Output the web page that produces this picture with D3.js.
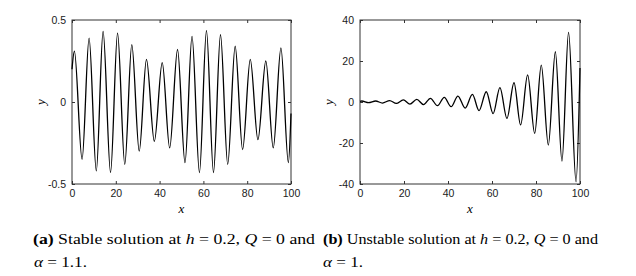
<!DOCTYPE html>
<html>
<head>
<meta charset="utf-8">
<script src="https://cdn.jsdelivr.net/npm/d3@7"></script>
<style>
    body { margin: 0; background: #fff; }
    .tick text { font-family: "Liberation Sans", Arial, sans-serif; font-size: 10.5px; fill: #1a1a1a; }
    .caption { font-family: "Liberation Serif", "Times New Roman", serif; font-size: 15px; fill: #000; }
</style>
</head>
<body>
<div id="chart"></div>
<script>
// panel (a): stable solution, extrema
const stableX = [0, 1.1, 4.6, 7.8, 11.1, 14.2, 17.6, 20.8, 24.1, 27.3, 30.7, 34.0, 37.6, 41.2, 44.6, 48.2,
    51.6, 54.8, 58.2, 61.4, 64.6, 67.8, 71.1, 74.5, 77.9, 81.4, 84.9, 88.5, 91.9, 95.4, 98.8, 100];
const stableY = [0.2, 0.31, -0.35, 0.39, -0.42, 0.43, -0.43, 0.42, -0.38, 0.35, -0.30, 0.26, -0.24, 0.24, -0.28, 0.32,
    -0.37, 0.40, -0.43, 0.435, -0.43, 0.41, -0.38, 0.34, -0.29, 0.26, -0.23, 0.25, -0.28, 0.33, -0.37, -0.07];

// panel (b): unstable solution
const unstableX = [0, 0.8, 3.9, 7.1, 10.2, 13.5, 16.5, 19.7, 22.7, 25.8, 28.9, 32.0, 35.2, 38.3, 41.4, 44.5, 47.8,
    51.1, 54.1, 57.4, 60.5, 63.6, 66.8, 70.0, 73.0, 76.2, 79.4, 82.4, 85.6, 88.8, 91.8, 94.8, 98.2, 100];
const unstableY = [0.3, 0.5, -0.35, 0.5, -0.5, 0.7, -0.7, 1.0, -1.0, 1.3, -1.3, 1.8, -1.8, 2.3, -2.3, 2.9, -3.0,
    3.7, -4.2, 5.0, -5.7, 7.0, -8.0, 9.4, -11.2, 13.2, -15.3, 18.0, -21.0, 24.5, -28.8, 34.0, -38.9, 16.6];

const xTicks = [0, 20, 40, 60, 80, 100];
const stableYTicks = [-0.5, 0, 0.5];
const stableYLabels = ["-0.5", "0", "0.5"];
const unstableYTicks = [-40, -20, 0, 20, 40];
const unstableYLabels = ["-40", "-20", "0", "20", "40"];

const width = 636;
const height = 276;

const svg = d3.select("#chart").append("svg")
    .attr("width", width)
    .attr("height", height);

svg.append("rect")
    .attr("width", width)
    .attr("height", height)
    .attr("fill", "#fff");

function drawPanel(opts) {
    const x = d3.scaleLinear().domain([0, 100]).range([opts.left, opts.right]);
    const y = d3.scaleLinear().domain(opts.yDomain).range([opts.bottom, opts.top]);
    const g = svg.append("g");
    const axisColor = "#333";
    const tick = 3;

    // bottom axis with labels
    const bottom = g.append("g")
        .attr("transform", `translate(0,${opts.bottom})`)
        .call(d3.axisBottom(x).tickValues(xTicks).tickSizeInner(-tick).tickSizeOuter(0).tickPadding(6));
    // top ticks only
    const top = g.append("g")
        .attr("transform", `translate(0,${opts.top})`)
        .call(d3.axisTop(x).tickValues(xTicks).tickSizeInner(-tick).tickSizeOuter(0).tickFormat(""));
    // left axis with labels
    const leftAx = g.append("g")
        .attr("transform", `translate(${opts.left},0)`)
        .call(d3.axisLeft(y).tickValues(opts.yTicks).tickSizeInner(-tick).tickSizeOuter(0).tickPadding(6)
            .tickFormat((d, i) => opts.yLabels[i]));
    const rightAx = g.append("g")
        .attr("transform", `translate(${opts.right},0)`)
        .call(d3.axisRight(y).tickValues(opts.yTicks).tickSizeInner(-tick).tickSizeOuter(0).tickFormat(""));

    [bottom, top, leftAx, rightAx].forEach(a => {
        a.select(".domain").remove();
        a.selectAll(".tick line").attr("stroke", axisColor);
    });

    g.append("rect")
        .attr("x", opts.left)
        .attr("y", opts.top)
        .attr("width", opts.right - opts.left)
        .attr("height", opts.bottom - opts.top)
        .attr("fill", "none")
        .attr("stroke", axisColor)
        .attr("stroke-width", 1);

    const pts = opts.xs.map((d, i) => [d, opts.ys[i]]);
    const line = d3.line()
        .x(d => x(d[0]))
        .y(d => y(d[1]))
        .curve(d3.curveMonotoneX);

    g.append("path")
        .datum(pts)
        .attr("d", line)
        .attr("fill", "none")
        .attr("stroke", "#000")
        .attr("stroke-width", 1.3);

    // axis titles (math italic)
    g.append("text")
        .attr("x", (opts.left + opts.right) / 2)
        .attr("y", opts.bottom + 29)
        .attr("text-anchor", "middle")
        .style("font-family", "'Liberation Serif', serif")
        .style("font-style", "italic")
        .style("font-size", "13px")
        .text("x");

    g.append("text")
        .attr("transform", `translate(${opts.left - 27},${(opts.top + opts.bottom) / 2}) rotate(-90)`)
        .attr("text-anchor", "middle")
        .style("font-family", "'Liberation Serif', serif")
        .style("font-style", "italic")
        .style("font-size", "13px")
        .text("y");
}

drawPanel({ left: 72, right: 291, top: 20, bottom: 184, yDomain: [-0.5, 0.5],
    yTicks: stableYTicks, yLabels: stableYLabels, xs: stableX, ys: stableY });
drawPanel({ left: 360, right: 580, top: 20, bottom: 184, yDomain: [-40, 40],
    yTicks: unstableYTicks, yLabels: unstableYLabels, xs: unstableX, ys: unstableY });

// captions, stretched to the widths in the original
function caption(xPos, yPos, len, parts) {
    const t = svg.append("text")
        .attr("class", "caption")
        .attr("x", xPos)
        .attr("y", yPos)
        .attr("textLength", len)
        .attr("lengthAdjust", "spacingAndGlyphs");
    parts.forEach(p => {
        t.append("tspan")
            .style("font-weight", p.b ? "bold" : null)
            .style("font-style", p.i ? "italic" : null)
            .text(p.t);
    });
    return t;
}

caption(33, 244, 282, [{ t: "(a)", b: true }, { t: " Stable solution at " }, { t: "h", i: true },
    { t: "  =  0.2,  " }, { t: "Q", i: true }, { t: "  =  0 and" }]);
caption(34, 267, 53, [{ t: "α", i: true }, { t: " = 1.1." }]);
caption(323, 244, 275, [{ t: "(b)", b: true }, { t: " Unstable solution at " }, { t: "h", i: true },
    { t: " = 0.2, " }, { t: "Q", i: true }, { t: " = 0 and" }]);
caption(323, 267, 40, [{ t: "α", i: true }, { t: " = 1." }]);
</script>
</body>
</html>
